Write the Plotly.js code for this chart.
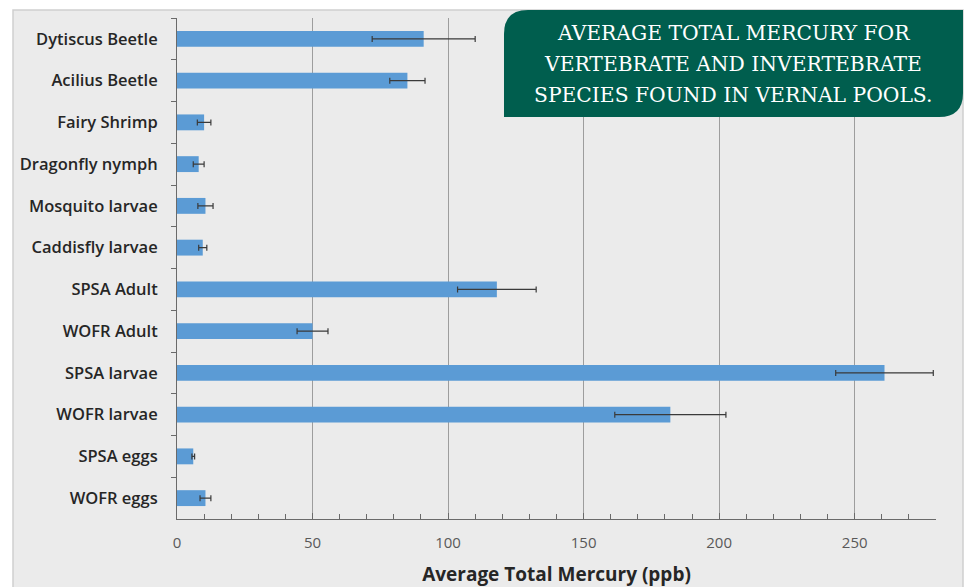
<!DOCTYPE html>
<html>
<head>
<meta charset="utf-8">
<script src="https://cdn.plot.ly/plotly-3.0.1.min.js"></script>
<style>html,body{margin:0;padding:0;background:#fff;}#chart{width:966px;height:587px;}</style>
</head>
<body>
<div id="chart"></div>
<script>
const species = ["Dytiscus Beetle","Acilius Beetle","Fairy Shrimp","Dragonfly nymph","Mosquito larvae","Caddisfly larvae","SPSA Adult","WOFR Adult","SPSA larvae","WOFR larvae","SPSA eggs","WOFR eggs"];
const meanHg = [91, 85, 10, 8, 10.5, 9.5, 118, 50, 261, 182, 6, 10.5];
const errHg  = [19, 6.5, 2.5, 2, 2.8, 1.5, 14.5, 5.7, 18, 20.5, 0.5, 2];
const xTickVals = [0, 50, 100, 150, 200, 250];
const titleLines = ["AVERAGE TOTAL MERCURY FOR", "VERTEBRATE AND INVERTEBRATE", "SPECIES FOUND IN VERNAL POOLS."];
const xTitle = "Average Total Mercury (ppb)";

const W = 966, H = 587;
const M = {l: 177, r: 30, t: 18, b: 68};
const pw = W - M.l - M.r, ph = H - M.t - M.b;
const px = x => (x - M.l) / pw;
const py = y => (H - M.b - y) / ph;

function boxPath(x0, y0, x1, y1, r) {
  const P = (x, y) => px(x).toFixed(5) + "," + py(y).toFixed(5);
  return "M" + P(x0, y0 + r) + " Q" + P(x0, y0) + " " + P(x0 + r, y0) +
         " L" + P(x1, y0) + " L" + P(x1, y1 - r) + " Q" + P(x1, y1) + " " + P(x1 - r, y1) +
         " L" + P(x0, y1) + " Z";
}

const trace = {
  type: "bar", orientation: "h",
  y: species, x: meanHg,
  marker: {color: "#5b9bd5", line: {width: 0}},
  error_x: {type: "data", array: errHg, visible: true, color: "#3a3a3a", thickness: 1.2, width: 3},
  hoverinfo: "x+y"
};

const titleY = [33, 64, 95];
const annotations = titleLines.map((t, i) => ({
  xref: "paper", yref: "paper", x: px(733), y: py(titleY[i]), xanchor: "center", yanchor: "middle",
  text: t, showarrow: false,
  font: {family: "DejaVu Serif", size: 20.3, color: "#ffffff"}
}));

const layout = {
  width: W, height: H,
  margin: M,
  paper_bgcolor: "#ffffff",
  plot_bgcolor: "rgba(0,0,0,0)",
  showlegend: false,
  bargap: 0.62,
  font: {family: "'Open Sans', sans-serif", color: "#333"},
  xaxis: {
    range: [0, 280], tickvals: xTickVals, showgrid: true, gridcolor: "#9d9d9d", gridwidth: 1,
    zeroline: false, showline: true, linecolor: "#6a6a6a", linewidth: 1,
    ticks: "inside", ticklen: 6, tickcolor: "#6a6a6a",
    minor: {dtick: 10, tick0: 0, ticks: "inside", ticklen: 5, tickcolor: "#6a6a6a", showgrid: false},
    ticklabelstandoff: 10,
    tickfont: {size: 15, color: "#595959", family: "'Open Sans', sans-serif"},
    title: {text: xTitle, font: {size: 19, color: "#262626", family: "'Open Sans', sans-serif", weight: "bold"}, standoff: 16},
    fixedrange: true
  },
  yaxis: {
    type: "category", autorange: "reversed", showgrid: false, zeroline: false,
    showline: true, linecolor: "#6a6a6a", linewidth: 1,
    ticks: "outside", tickson: "boundaries", ticklen: 5, tickcolor: "#6a6a6a",
    ticklabelstandoff: 15,
    tickfont: {size: 16.5, color: "#262626", family: "'Open Sans', sans-serif", weight: 600},
    fixedrange: true
  },
  shapes: [
    {type: "rect", xref: "paper", yref: "paper", layer: "below",
     x0: px(13), x1: px(963), y0: py(10), y1: py(590),
     fillcolor: "#ebebeb", line: {color: "#cfcfcf", width: 1.5}},
    {type: "path", xref: "paper", yref: "paper", layer: "above",
     path: boxPath(504, 10, 963, 117, 24),
     fillcolor: "#005e4e", line: {width: 0}}
  ],
  annotations: annotations
};

Plotly.newPlot("chart", [trace], layout, {displayModeBar: false, staticPlot: true});
</script>
</body>
</html>
